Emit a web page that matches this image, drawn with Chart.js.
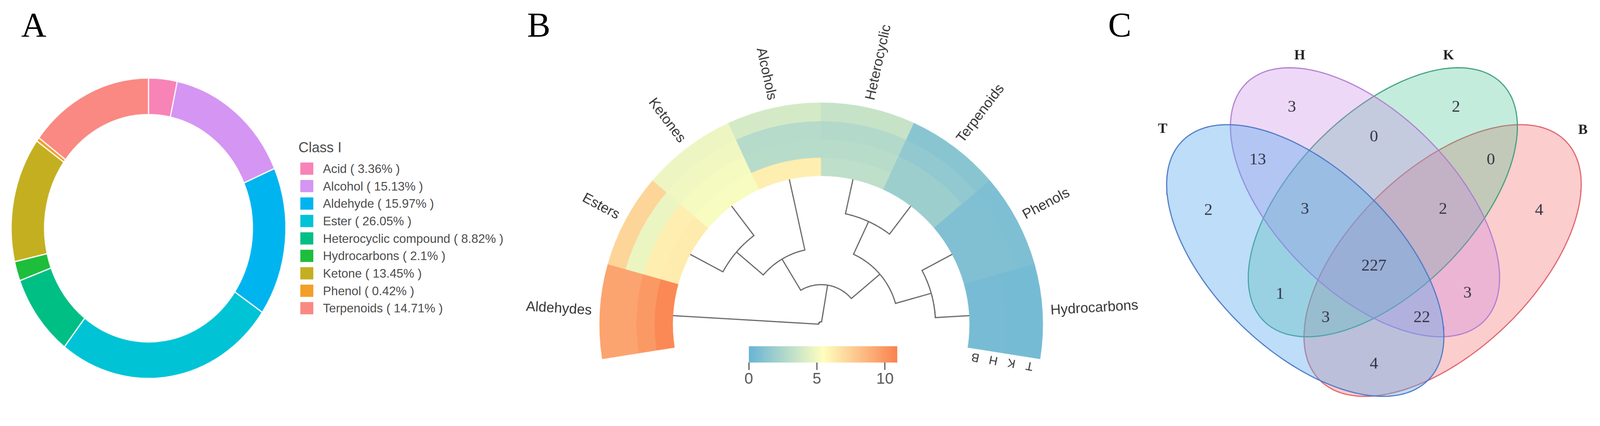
<!DOCTYPE html>
<html>
<head>
<meta charset="utf-8">
<title>Volatile compound classes</title>
<script src="https://cdn.jsdelivr.net/npm/chart.js@4.4.1/dist/chart.umd.min.js"></script>
<style>
  html, body { margin: 0; padding: 0; background: #fff; overflow: hidden; }
  body { width: 100vw; height: 100vh; font-family: "Liberation Sans", Arial, sans-serif; }
  #stage { position: absolute; left: 0; top: 0; width: 4310px; height: 1091px; transform-origin: 0 0; background: #fff; }
  canvas { position: absolute; }
  .panel { position: absolute; top: 19px; font-family: "Liberation Serif", "Times New Roman", serif; font-size: 94px; line-height: 94px; color: #000; }
  #legendA { position: absolute; left: 804px; top: 378px; color: #4d4d4d; white-space: nowrap; }
  #legendA .title { position: absolute; left: 0; top: 0; font-size: 38px; line-height: 38px; }
  #legendA .box { position: absolute; left: 5px; width: 35px; height: 33px; }
  #legendA .txt { position: absolute; left: 66px; font-size: 33px; line-height: 33px; }
</style>
</head>
<body>
<div id="stage">
  <div class="panel" style="left:57px">A</div>
  <div class="panel" style="left:1420px">B</div>
  <div class="panel" style="left:2985px">C</div>

  <canvas id="donut" width="760" height="760" style="left:20px; top:235px; transform:scaleY(1.094); transform-origin:50% 50%;"></canvas>
  <div id="legendA"><div class="title">Class I</div></div>

  <canvas id="heat" width="1700" height="1091" style="left:1400px; top:0px;"></canvas>
  <canvas id="tree" width="824" height="424" style="left:1800px; top:460px;"></canvas>
  <canvas id="colorbar" width="480" height="187" style="left:1977px; top:900px;"></canvas>

  <canvas id="venn" width="1230" height="991" style="left:3080px; top:100px;"></canvas>
</div>

<script>
// ---- panel A: class composition ----
const classNames = ['Acid', 'Alcohol', 'Aldehyde', 'Ester', 'Heterocyclic compound', 'Hydrocarbons', 'Ketone', 'Phenol', 'Terpenoids'];
const classShares = [3.36, 15.13, 15.97, 26.05, 8.82, 2.1, 13.45, 0.42, 14.71];
const classColors = ['#F883B6', '#D595F2', '#00B4F0', '#00C3D6', '#00BF85', '#1EBD3C', '#C4AF21', '#F39F28', '#F98982'];

// ---- panel B: heatmap (rings outer -> inner: T, K, H, B) ----
const heatCategories = ['Aldehydes', 'Esters', 'Ketones', 'Alcohols', 'Heterocyclic', 'Terpenoids', 'Phenols', 'Hydrocarbons'];
const heatT = [9.4, 7.3, 4.8, 3.9, 3.4, 1.2, 0.8, 0.5];
const heatK = [9.4, 4.7, 4.9, 2.8, 2.7, 1.5, 0.85, 0.5];
const heatH = [9.9, 6.2, 5.1, 2.9, 2.9, 1.9, 0.9, 0.55];
const heatB = [10.6, 6.3, 5.2, 6.2, 3.1, 1.9, 0.9, 0.55];
const sampleNames = ['T', 'K', 'H', 'B'];
const colorTicks = [0, 5, 10];
// hclust style merges: >=0 leaf index, <0 earlier merge row
const treeMerge = [[1, 2], [-1, 3], [4, 5], [6, 7], [-3, -4], [-2, -5], [0, -6]];
const treeHeight = [1.0, 1.95, 0.95, 0.92, 1.92, 2.93, 3.93];

// ---- panel C: venn ----
const vennSets = ['T', 'H', 'K', 'B'];
const vennRegions = ['T', 'H', 'K', 'B', 'TH', 'HK', 'KB', 'THK', 'HKB', 'THKB', 'TK', 'HB', 'TKB', 'THB', 'TB'];
const vennCounts = [2, 3, 2, 4, 13, 0, 0, 3, 2, 227, 1, 3, 3, 22, 4];

const COLOR_MIN = 0, COLOR_MAX = 10.9;
const LOW = [104, 180, 214], MID = [255, 255, 191], HIGH = [250, 130, 80];
const HEAT_ROTATION = -99, HEAT_SWEEP = 198;
const LEAF_R = 400, TREE_UNIT = 100;

// fit the 4310 x 1091 stage into whatever css viewport we get
const stage = document.getElementById('stage');
const fit = Math.min(window.innerWidth / 4310, window.innerHeight / 1091);
if (fit > 0 && Math.abs(fit - 1) > 0.002) stage.style.transform = 'scale(' + fit + ')';

Chart.defaults.font.family = '"Liberation Sans", Arial, Helvetica, sans-serif';
Chart.defaults.animation = false;
Chart.defaults.responsive = false;
Chart.defaults.events = [];
Chart.defaults.plugins.tooltip.enabled = false;
Chart.defaults.plugins.legend.display = false;

function heatColor(v) {
  const t = Math.max(0, Math.min(1, (v - COLOR_MIN) / (COLOR_MAX - COLOR_MIN)));
  const from = t < 0.5 ? LOW : MID;
  const to = t < 0.5 ? MID : HIGH;
  const u = t < 0.5 ? t * 2 : (t - 0.5) * 2;
  return 'rgb(' + from.map((c, k) => Math.round(c + (to[k] - c) * u)).join(',') + ')';
}

// ---------- A ----------
const chartA = new Chart(document.getElementById('donut'), {
  type: 'doughnut',
  data: {
    labels: classNames.map((n, i) => n + ' ( ' + classShares[i] + '% )'),
    datasets: [{
      data: classShares,
      backgroundColor: classColors,
      borderColor: '#ffffff',
      borderWidth: 3
    }]
  },
  options: {
    radius: 370,
    cutout: '75.7%',
    rotation: 0,
    layout: { padding: 0 }
  }
});

// html legend built from the chart's own legend items
const legendA = document.getElementById('legendA');
chartA.options.plugins.legend.labels.generateLabels(chartA).forEach((item, i) => {
  const box = document.createElement('div');
  box.className = 'box';
  box.style.top = (60 + i * 47) + 'px';
  box.style.background = item.fillStyle;
  const txt = document.createElement('div');
  txt.className = 'txt';
  txt.style.top = (60 + i * 47) + 'px';
  txt.textContent = item.text;
  legendA.appendChild(box);
  legendA.appendChild(txt);
});

// ---------- B ----------
const heatRows = [heatT, heatK, heatH, heatB];

const ringLabels = {
  id: 'ringLabels',
  afterDatasetsDraw(chart) {
    const ctx = chart.ctx;
    ctx.save();
    ctx.fillStyle = '#333';
    ctx.textBaseline = 'middle';
    ctx.font = '38px "Liberation Sans", Arial, sans-serif';
    chart.getDatasetMeta(0).data.forEach((arc, i) => {
      const mid = (arc.startAngle + arc.endAngle) / 2;
      const r = arc.outerRadius + 22;
      ctx.save();
      ctx.translate(arc.x + r * Math.cos(mid), arc.y + r * Math.sin(mid));
      if (Math.cos(mid) < 0) {
        ctx.rotate(mid + Math.PI);
        ctx.textAlign = 'right';
      } else {
        ctx.rotate(mid);
        ctx.textAlign = 'left';
      }
      ctx.fillText(chart.data.labels[i], 0, 0);
      ctx.restore();
    });
    ctx.font = '32px "Liberation Sans", Arial, sans-serif';
    ctx.textAlign = 'center';
    chart.data.datasets.forEach((ds, d) => {
      const meta = chart.getDatasetMeta(d);
      const last = meta.data[meta.data.length - 1];
      const rm = (last.innerRadius + last.outerRadius) / 2;
      const ang = last.endAngle + 22 / rm;
      ctx.save();
      ctx.translate(last.x + rm * Math.cos(ang), last.y + rm * Math.sin(ang));
      ctx.rotate(ang + Math.PI);
      ctx.fillText(ds.label, 0, 0);
      ctx.restore();
    });
    ctx.restore();
  }
};

new Chart(document.getElementById('heat'), {
  type: 'doughnut',
  data: {
    labels: heatCategories,
    datasets: sampleNames.map((s, d) => ({
      label: s,
      data: heatCategories.map(() => 1),
      backgroundColor: heatRows[d].map(heatColor),
      borderColor: heatRows[d].map(heatColor),
      borderWidth: 1
    }))
  },
  options: {
    radius: 597,
    cutout: '67%',
    rotation: HEAT_ROTATION,
    circumference: HEAT_SWEEP,
    layout: { padding: { top: 153, right: 76 } }
  },
  plugins: [ringLabels]
});

// dendrogram in polar coordinates around the ring centre
const leafAng = heatCategories.map((_, i) =>
  (HEAT_ROTATION - 90 + HEAT_SWEEP * (i + 0.5) / heatCategories.length) * Math.PI / 180);
const nodeAng = [], nodeR = [];
function polar(a, r) { return { x: r * Math.cos(a), y: -r * Math.sin(a) }; }
function childOf(c) {
  return c >= 0 ? { a: leafAng[c], r: LEAF_R } : { a: nodeAng[-c - 1], r: nodeR[-c - 1] };
}
const treeSets = treeMerge.map((pair, k) => {
  const c1 = childOf(pair[0]), c2 = childOf(pair[1]);
  const r = LEAF_R - treeHeight[k] * TREE_UNIT;
  nodeAng[k] = (c1.a + c2.a) / 2;
  nodeR[k] = r;
  const pts = [polar(c1.a, c1.r), polar(c1.a, r)];
  for (let s = 1; s < 40; s++) pts.push(polar(c1.a + (c2.a - c1.a) * s / 40, r));
  pts.push(polar(c2.a, r), polar(c2.a, c2.r));
  return { data: pts, showLine: true, borderColor: '#626262', borderWidth: 3, pointRadius: 0, fill: false, tension: 0 };
});

new Chart(document.getElementById('tree'), {
  type: 'scatter',
  data: { datasets: treeSets },
  options: {
    layout: { padding: 0 },
    scales: {
      x: { type: 'linear', min: -412, max: 412, display: false },
      y: { type: 'linear', min: -10, max: 414, display: false }
    }
  }
});

// colour key
function keyGradient(c) {
  const area = c.chart.chartArea;
  if (!area) return heatColor(COLOR_MIN);
  const g = c.chart.ctx.createLinearGradient(area.left, 0, area.right, 0);
  g.addColorStop(0, heatColor(COLOR_MIN));
  g.addColorStop(0.5, heatColor((COLOR_MIN + COLOR_MAX) / 2));
  g.addColorStop(1, heatColor(COLOR_MAX));
  return g;
}
new Chart(document.getElementById('colorbar'), {
  type: 'bar',
  data: {
    labels: ['key'],
    datasets: [{ data: [COLOR_MAX], backgroundColor: keyGradient, borderWidth: 0, barPercentage: 1, categoryPercentage: 1 }]
  },
  options: {
    indexAxis: 'y',
    layout: { padding: { left: 40, right: 40, top: 33, bottom: 0 } },
    scales: {
      x: {
        type: 'linear', min: COLOR_MIN, max: COLOR_MAX, position: 'bottom',
        afterBuildTicks: (s) => { s.ticks = colorTicks.map(v => ({ value: v })); },
        afterFit: (s) => { s.height = 110; },
        ticks: { font: { size: 42 }, color: '#555', padding: 0, maxRotation: 0, autoSkip: false },
        grid: { drawOnChartArea: false, drawTicks: true, tickLength: 20, tickWidth: 3, tickColor: '#555' },
        border: { display: false }
      },
      y: { display: false }
    }
  }
});

// ---------- C ----------
const vennShapes = {
  T: { cx: 3516, cy: 702, a: 462, b: 245, rot: 44, fill: 'rgba(90,169,238,0.4)', line: '#4C79C8' },
  H: { cx: 3677, cy: 545, a: 453, b: 240, rot: 45, fill: 'rgba(199,127,229,0.3)', line: '#B07CD0' },
  K: { cx: 3725, cy: 545, a: 453, b: 240, rot: -45, fill: 'rgba(61,192,138,0.3)', line: '#3E9F7D' },
  B: { cx: 3886, cy: 702, a: 462, b: 245, rot: -44, fill: 'rgba(247,111,112,0.35)', line: '#E0606A' }
};
const vennLabelPos = {
  T: [3255, 567], H: [3480, 289], K: [3922, 289], B: [4146, 567],
  TH: [3388, 431], HK: [3701, 369], KB: [4016, 431],
  THK: [3515, 564], HKB: [3887, 564], THKB: [3701, 717],
  TK: [3448, 793], HB: [3953, 790], TKB: [3571, 856], THB: [3830, 856], TB: [3701, 981]
};
const vennNamePos = { T: [3132, 348], H: [3501, 150], K: [3902, 150], B: [4264, 351] };

function ellipse(e) {
  const pts = [];
  const r = e.rot * Math.PI / 180;
  for (let i = 0; i <= 180; i++) {
    const t = i / 180 * 2 * Math.PI;
    const u = e.a * Math.cos(t), v = e.b * Math.sin(t);
    pts.push({ x: e.cx + u * Math.cos(r) - v * Math.sin(r), y: e.cy + u * Math.sin(r) + v * Math.cos(r) });
  }
  return pts;
}

const vennText = {
  id: 'vennText',
  afterDatasetsDraw(chart) {
    const { ctx, scales } = chart;
    ctx.save();
    ctx.textAlign = 'center';
    ctx.textBaseline = 'middle';
    ctx.fillStyle = '#333344';
    ctx.font = '45px "Liberation Serif", "Times New Roman", serif';
    vennRegions.forEach((reg, i) => {
      const p = vennLabelPos[reg];
      ctx.fillText(String(vennCounts[i]), scales.x.getPixelForValue(p[0]), scales.y.getPixelForValue(p[1]));
    });
    ctx.fillStyle = '#222';
    ctx.font = 'bold 38px "Liberation Serif", "Times New Roman", serif';
    vennSets.forEach(s => {
      const p = vennNamePos[s];
      ctx.fillText(s, scales.x.getPixelForValue(p[0]), scales.y.getPixelForValue(p[1]));
    });
    ctx.restore();
  }
};

new Chart(document.getElementById('venn'), {
  type: 'scatter',
  data: {
    datasets: vennSets.map(s => ({
      label: s,
      data: ellipse(vennShapes[s]),
      showLine: true,
      fill: 'shape',
      backgroundColor: vennShapes[s].fill,
      borderColor: vennShapes[s].line,
      borderWidth: 3,
      pointRadius: 0,
      tension: 0
    }))
  },
  options: {
    layout: { padding: 0 },
    scales: {
      x: { type: 'linear', min: 3080, max: 4310, display: false },
      y: { type: 'linear', min: 100, max: 1091, reverse: true, display: false }
    }
  },
  plugins: [vennText]
});
</script>
</body>
</html>
